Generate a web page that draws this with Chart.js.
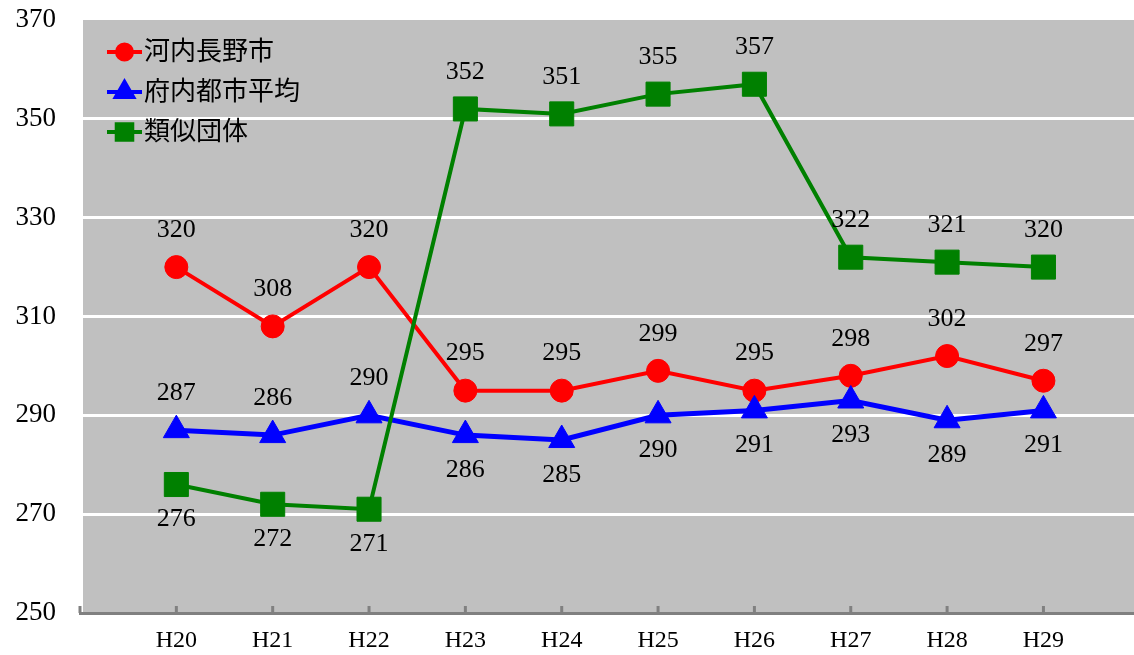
<!DOCTYPE html>
<html>
<head>
<meta charset="utf-8">
<script src="https://cdn.jsdelivr.net/npm/chart.js@4"></script>
<style>
  html, body { margin: 0; padding: 0; background: #fff; }
  canvas { display: block; }
</style>
</head>
<body>
<canvas id="chart" width="1134" height="655"></canvas>
<script>
var xLabels = ["H20", "H21", "H22", "H23", "H24", "H25", "H26", "H27", "H28", "H29"];
var seriesNames = ["河内長野市", "府内都市平均", "類似団体"];
var kawachinagano = [320, 308, 320, 295, 295, 299, 295, 298, 302, 297];
var funaiAverage = [287, 286, 290, 286, 285, 290, 291, 293, 289, 291];
var ruijiDantai = [276, 272, 271, 352, 351, 355, 357, 322, 321, 320];
var yTicks = [250, 270, 290, 310, 330, 350, 370];

var FONT = "'Liberation Serif', 'Noto Sans CJK JP', serif";
var allSeries = [kawachinagano, funaiAverage, ruijiDantai];

function toPoints(values) {
  return values.map(function (v, i) { return { x: i, y: v }; });
}

// gray plot background
var plotBg = {
  id: 'plotBg',
  beforeDraw: function (chart) {
    var a = chart.chartArea, ctx = chart.ctx;
    ctx.save();
    ctx.fillStyle = '#C0C0C0';
    ctx.fillRect(a.left + 3, a.top, a.right - a.left - 3, a.bottom - a.top);
    ctx.restore();
  },
  afterDraw: function (chart) {
    // small tick marks pointing up from the x axis
    var x = chart.scales.x, a = chart.chartArea, ctx = chart.ctx;
    ctx.save();
    ctx.strokeStyle = '#808080';
    ctx.lineWidth = 3;
    x.ticks.forEach(function (t, i) {
      var px = x.getPixelForTick(i);
      ctx.beginPath();
      ctx.moveTo(px, a.bottom - 7);
      ctx.lineTo(px, a.bottom);
      ctx.stroke();
    });
    ctx.restore();
  }
};

// value labels: below the point when it is the lowest series at that year
var valueLabels = {
  id: 'valueLabels',
  afterDatasetsDraw: function (chart) {
    var ctx = chart.ctx;
    ctx.save();
    ctx.font = '26px ' + FONT;
    ctx.fillStyle = '#000';
    ctx.textAlign = 'center';
    ctx.textBaseline = 'middle';
    chart.data.datasets.forEach(function (ds, di) {
      var meta = chart.getDatasetMeta(di);
      meta.data.forEach(function (pt, i) {
        var v = allSeries[di][i];
        var lowest = allSeries.every(function (s) { return s[i] >= v; });
        var dy = lowest ? 35 : -37;
        ctx.fillText(String(v), pt.x, pt.y + dy);
      });
    });
    ctx.restore();
  }
};

// legend inside the plot, line through marker
var insideLegend = {
  id: 'insideLegend',
  afterDraw: function (chart) {
    var a = chart.chartArea, ctx = chart.ctx;
    ctx.save();
    chart.data.datasets.forEach(function (ds, i) {
      var y = a.top + 32 + i * 40;
      var x0 = a.left + 27, x1 = a.left + 62;
      ctx.strokeStyle = ds.borderColor;
      ctx.lineWidth = 4;
      ctx.beginPath();
      ctx.moveTo(x0, y);
      ctx.lineTo(x1, y);
      ctx.stroke();
      ctx.fillStyle = ds.pointBackgroundColor;
      ctx.strokeStyle = ds.pointBackgroundColor;
      Chart.helpers.drawPoint(ctx, {
        pointStyle: ds.pointStyle,
        radius: ds.legendRadius,
        rotation: 0,
        borderWidth: 1
      }, (x0 + x1) / 2, y);
      ctx.fillStyle = '#000';
      ctx.font = '26px ' + FONT;
      ctx.textAlign = 'left';
      ctx.textBaseline = 'middle';
      ctx.fillText(ds.label, x1 + 2, y + 1);
    });
    ctx.restore();
  }
};

new Chart(document.getElementById('chart'), {
  type: 'line',
  data: {
    datasets: [{
      label: seriesNames[0],
      data: toPoints(kawachinagano),
      borderColor: '#FF0000',
      borderWidth: 4,
      pointStyle: 'circle',
      pointRadius: 11.5,
      legendRadius: 7.5,
      pointBackgroundColor: '#FF0000',
      pointBorderColor: '#FF0000',
      pointBorderWidth: 1,
      order: 3
    }, {
      label: seriesNames[1],
      data: toPoints(funaiAverage),
      borderColor: '#0000FF',
      borderWidth: 5,
      pointStyle: 'triangle',
      pointRadius: 15,
      legendRadius: 10,
      pointBackgroundColor: '#0000FF',
      pointBorderColor: '#0000FF',
      pointBorderWidth: 1,
      order: 2
    }, {
      label: seriesNames[2],
      data: toPoints(ruijiDantai),
      borderColor: '#008000',
      borderWidth: 4,
      pointStyle: 'rect',
      pointRadius: 17,
      legendRadius: 11,
      pointBackgroundColor: '#008000',
      pointBorderColor: '#008000',
      pointBorderWidth: 1,
      order: 1
    }]
  },
  options: {
    responsive: false,
    animation: false,
    layout: { autoPadding: false, padding: { top: 20, right: 0, left: 0, bottom: 0 } },
    elements: { line: { tension: 0 } },
    plugins: {
      legend: { display: false },
      tooltip: { enabled: false }
    },
    scales: {
      x: {
        type: 'linear',
        min: -1,
        max: 9.94,
        afterFit: function (s) {
          s.height = 42;
          s.paddingLeft = 0;
          s.paddingRight = 0;
        },
        afterBuildTicks: function (s) {
          s.ticks = [-1].concat(xLabels.map(function (l, i) { return i; })).map(function (v) { return { value: v }; });
        },
        ticks: {
          autoSkip: false,
          maxRotation: 0,
          padding: 13,
          color: '#000',
          font: { family: FONT, size: 24 },
          callback: function (v) { return xLabels[v] !== undefined ? xLabels[v] : ''; }
        },
        grid: { display: true, drawOnChartArea: false, drawTicks: false, color: '#808080' },
        border: { display: true, color: '#808080', width: 3 }
      },
      y: {
        min: yTicks[0],
        max: yTicks[yTicks.length - 1],
        afterFit: function (s) {
          s.width = 80;
          s.paddingTop = 0;
          s.paddingBottom = 0;
        },
        afterBuildTicks: function (s) {
          s.ticks = yTicks.map(function (v) { return { value: v }; });
        },
        ticks: {
          padding: 24,
          color: '#000',
          font: { family: FONT, size: 27 }
        },
        grid: {
          drawTicks: false,
          lineWidth: 3,
          color: function (c) {
            var v = c.tick && c.tick.value;
            return (v === yTicks[0] || v === yTicks[yTicks.length - 1]) ? 'rgba(0,0,0,0)' : '#FFFFFF';
          }
        },
        border: { display: false }
      }
    }
  },
  plugins: [plotBg, valueLabels, insideLegend]
});
</script>
</body>
</html>
